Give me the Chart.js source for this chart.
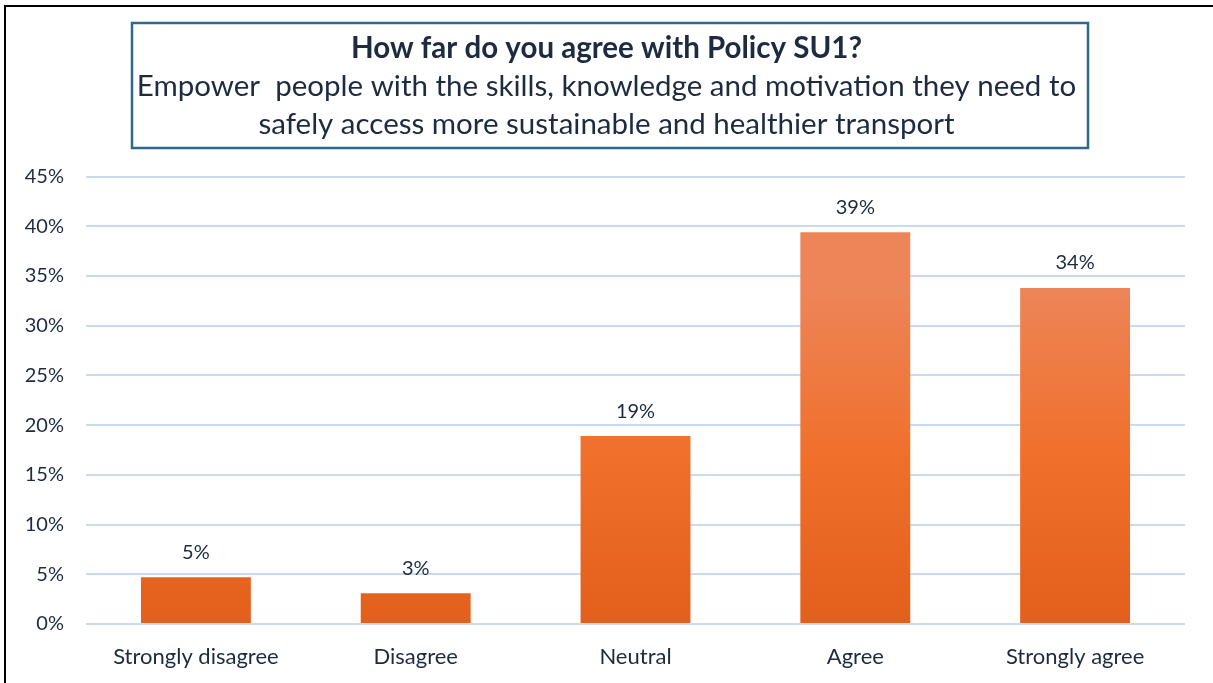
<!DOCTYPE html>
<html>
<head>
<meta charset="utf-8">
<title>Policy SU1</title>
<script src="https://cdn.jsdelivr.net/npm/chart.js@4"></script>
<style>
  html, body { margin: 0; padding: 0; background: #fff; }
  #cadre {
    position: absolute; left: 0; top: 0; width: 1213px; height: 683px;
  }
  #bord {
    position: absolute; left: 4px; top: 5px; right: 0; bottom: 0;
    border-left: 2px solid #000; border-top: 2px solid #000;
    pointer-events: none;
  }
</style>
</head>
<body>
<div id="cadre">
  <canvas id="graphique" width="1213" height="683"></canvas>
  <div id="bord"></div>
</div>
<script>
// ================================
// DONNÉES
// ================================

const CATEGORIES = ['Strongly disagree', 'Disagree', 'Neutral', 'Agree', 'Strongly agree'];
const POURCENTAGES = [4.7, 3.1, 18.9, 39.4, 33.8];
const TICKS_Y = [0, 5, 10, 15, 20, 25, 30, 35, 40, 45];

const TITRE = 'How far do you agree with Policy SU1?';
const SOUS_TITRE = [
  'Empower  people with the skills, knowledge and motivation they need to',
  'safely access more sustainable and healthier transport'
];

const COULEUR_TEXTE = '#1d2b40';
const COULEUR_GRILLE = '#c8dbef';
const POLICE = 'Lato, "Open Sans", sans-serif';

// ================================
// PLUGINS
// ================================

// dégradé vertical sur chaque barre (clair en haut, foncé en bas)
const degradeBarres = {
  id: 'degradeBarres',
  beforeDatasetsDraw(chart) {
    const ctx = chart.ctx;
    chart.getDatasetMeta(0).data.forEach(function(barre) {
      const g = ctx.createLinearGradient(0, barre.y, 0, barre.base);
      g.addColorStop(0, '#ed8559');
      g.addColorStop(0.5, '#f0702b');
      g.addColorStop(1, '#e25f1c');
      barre.options.backgroundColor = g;
    });
  }
};

// étiquettes de valeur au-dessus des barres
const etiquettes = {
  id: 'etiquettes',
  afterDatasetsDraw(chart) {
    const ctx = chart.ctx;
    ctx.save();
    ctx.font = '20px ' + POLICE;
    ctx.fillStyle = COULEUR_TEXTE;
    ctx.textAlign = 'center';
    ctx.textBaseline = 'middle';
    chart.getDatasetMeta(0).data.forEach(function(barre, i) {
      ctx.fillText(Math.round(POURCENTAGES[i]) + '%', barre.x, barre.y - 25);
    });
    ctx.restore();
  }
};

// cadre autour du titre
const cadreTitre = {
  id: 'cadreTitre',
  afterDraw(chart) {
    const ctx = chart.ctx;
    ctx.save();
    ctx.strokeStyle = '#2c6a8b';
    ctx.lineWidth = 2.5;
    ctx.strokeRect(132, 23, 956, 125);
    ctx.restore();
  }
};

// ================================
// GRAPHIQUE
// ================================

new Chart(document.getElementById('graphique'), {
  type: 'bar',
  data: {
    labels: CATEGORIES,
    datasets: [{
      data: POURCENTAGES,
      backgroundColor: '#f0702b',
      borderWidth: 0,
      categoryPercentage: 1,
      barPercentage: 0.5
    }]
  },
  options: {
    responsive: false,
    animation: false,
    layout: { padding: { left: 6, right: 6, top: 0, bottom: 0 } },
    plugins: {
      legend: { display: false },
      tooltip: { enabled: false },
      title: {
        display: true,
        text: TITRE,
        color: COULEUR_TEXTE,
        font: { family: POLICE, size: 29.5, weight: 'bold' },
        padding: { top: 31, bottom: 1 }
      },
      subtitle: {
        display: true,
        text: SOUS_TITRE,
        color: COULEUR_TEXTE,
        font: { family: POLICE, size: 29.5, lineHeight: 1.29 },
        padding: { top: 0, bottom: 33 }
      }
    },
    scales: {
      x: {
        afterFit(axe) { axe.height = 59; },
        grid: { display: false },
        border: { display: false },
        ticks: {
          color: COULEUR_TEXTE,
          font: { family: POLICE, size: 22 },
          padding: 12,
          maxRotation: 0
        }
      },
      y: {
        min: 0,
        max: TICKS_Y[TICKS_Y.length - 1],
        afterBuildTicks(axe) {
          axe.ticks = TICKS_Y.map(function(v) { return { value: v }; });
        },
        afterFit(axe) { axe.width = 80; },
        grid: { color: COULEUR_GRILLE, lineWidth: 2, drawTicks: false },
        border: { display: false },
        ticks: {
          color: COULEUR_TEXTE,
          font: { family: POLICE, size: 20 },
          padding: 22,
          callback: function(v) { return v + '%'; }
        }
      },
      // marge vide à droite du tracé
      droite: {
        type: 'linear',
        position: 'right',
        min: 0,
        max: TICKS_Y[TICKS_Y.length - 1],
        afterFit(axe) { axe.width = 22; },
        grid: { display: false },
        border: { display: false },
        ticks: { display: false }
      }
    }
  },
  plugins: [degradeBarres, etiquettes, cadreTitre]
});
</script>
</body>
</html>
